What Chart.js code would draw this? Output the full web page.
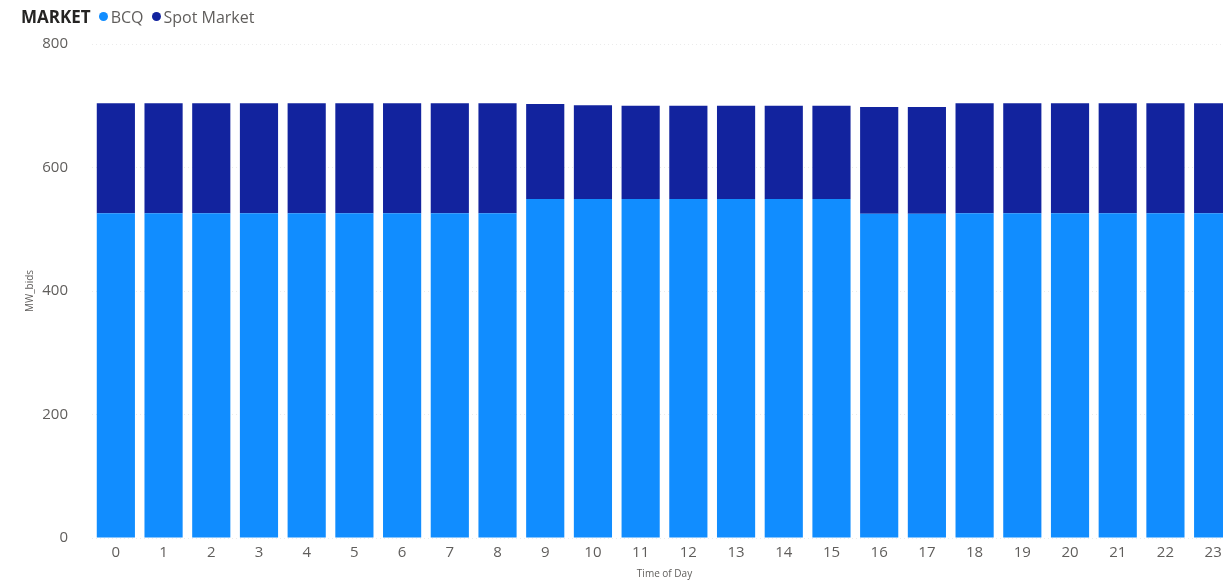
<!DOCTYPE html>
<html>
<head>
<meta charset="utf-8">
<script src="https://cdn.jsdelivr.net/npm/chart.js@4/dist/chart.umd.min.js"></script>
<style>
  html, body { margin: 0; padding: 0; background: #fff; overflow: hidden; }
  #wrap { position: absolute; left: 0; top: 0; width: 1237px; height: 580px; }
  #legend {
    position: absolute; left: 21px; top: 5px; z-index: 2;
    font-family: "Open Sans", sans-serif; font-size: 16px; color: #605E5C;
    display: flex; align-items: center; white-space: nowrap;
  }
  #legend b { color: #252423; font-weight: 700; font-size: 17px; margin-right: 8px; }
  #legend .dot { display: inline-block; width: 9px; height: 9px; border-radius: 50%; margin: 0 3px 0 0; }
  #legend span.item { margin-right: 8px; }
</style>
</head>
<body>
<div id="legend">
  <b>MARKET</b>
  <span class="dot" style="background:#118DFF"></span><span class="item">BCQ</span>
  <span class="dot" style="background:#12239E"></span><span class="item">Spot Market</span>
</div>
<div id="wrap"><canvas id="barChart"></canvas></div>
<script>
  // Hora do dia e valores
  var hours = ['0', '1', '2', '3', '4', '5', '6', '7', '8', '9', '10', '11',
               '12', '13', '14', '15', '16', '17', '18', '19', '20', '21', '22', '23'];
  var bcq = [526, 526, 526, 526, 526, 526, 526, 526, 526, 549, 549, 549,
             549, 549, 549, 549, 525, 525, 526, 526, 526, 526, 526, 526];
  var spotMarket = [178, 178, 178, 178, 178, 178, 178, 178, 178, 154, 152, 151,
                    151, 151, 151, 151, 173, 173, 178, 178, 178, 178, 178, 178];
  var yTicks = [0, 200, 400, 600, 800];

  var data = {
    labels: hours,
    datasets: [
      {
        label: 'BCQ',
        backgroundColor: '#118DFF',
        data: bcq,
        barPercentage: 0.8,
        categoryPercentage: 1
      },
      {
        label: 'Spot Market',
        backgroundColor: '#12239E',
        data: spotMarket,
        barPercentage: 0.8,
        categoryPercentage: 1
      }
    ]
  };

  var options = {
    responsive: true,
    maintainAspectRatio: false,
    animation: false,
    layout: { padding: { top: 44, right: 0, bottom: 0, left: 0 } },
    scales: {
      x: {
        stacked: true,
        grid: { display: false, drawTicks: false },
        border: { display: false },
        ticks: { color: '#605E5C', font: { family: 'Open Sans', size: 15 }, padding: 6, maxRotation: 0 },
        title: { display: true, text: 'Time of Day', color: '#605E5C',
                 font: { family: 'Open Sans', size: 10 }, padding: { top: 0, bottom: 0 } },
        afterFit: function(s) { s.height = 42; }
      },
      y: {
        stacked: true,
        min: 0,
        max: 800,
        afterBuildTicks: function(s) { s.ticks = yTicks.map(function(v) { return { value: v }; }); },
        grid: { color: 'rgba(0,0,0,0.08)', drawTicks: false },
        border: { display: false, dash: [1, 3] },
        ticks: { color: '#605E5C', font: { family: 'Open Sans', size: 15 }, padding: 24 },
        title: { display: true, text: 'MW_bids', color: '#605E5C',
                 font: { family: 'Open Sans', size: 10 }, padding: { top: 24, bottom: 0 } },
        afterFit: function(s) { s.width = 92; }
      }
    },
    plugins: {
      legend: { display: false },
      tooltip: { enabled: false }
    }
  };

  var ctx = document.getElementById('barChart').getContext('2d');
  var myBarChart = new Chart(ctx, {
    type: 'bar',
    data: data,
    options: options
  });
</script>
</body>
</html>
